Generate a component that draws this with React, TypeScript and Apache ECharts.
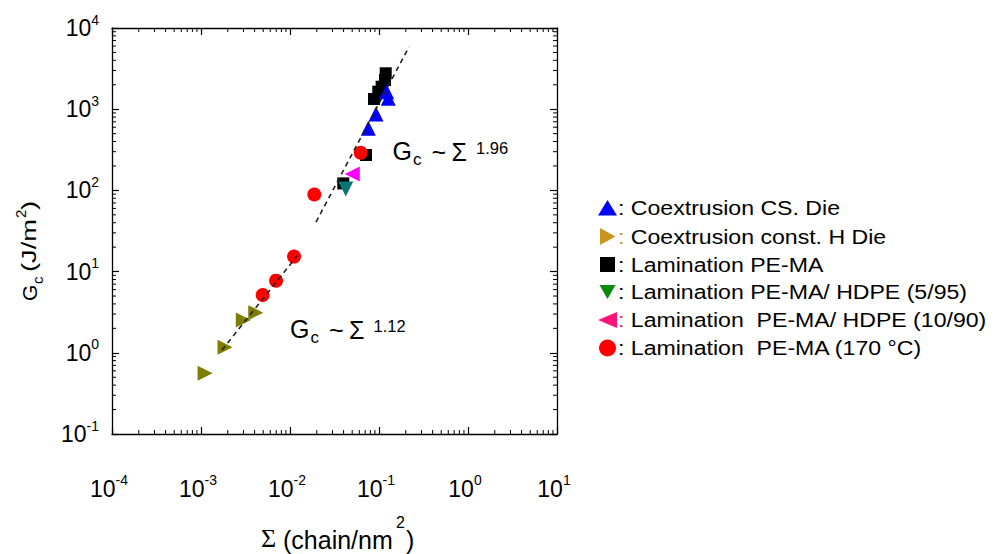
import React, { useEffect, useRef } from "react";
import * as echarts from "echarts";

// ---- data ----
const coexCS_x = [0.122, 0.127, 0.0925, 0.0759];
const coexCS_y = [1643, 1361, 873, 582];
const coexH_x = [0.00111, 0.00186, 0.00299, 0.00412];
const coexH_y = [0.56, 1.17, 2.54, 3.12];
const lamPEMA_x = [0.0397, 0.0714, 0.0879, 0.0982, 0.107, 0.1167, 0.119];
const lamPEMA_y = [122, 273, 1335, 1643, 1893, 2288, 2768];
const lam595_x = [0.0423];
const lam595_y = [104];
const lam1090_x = [0.0501];
const lam1090_y = [159];
const lam170_x = [0.00493, 0.00697, 0.0111, 0.01875, 0.0622];
const lam170_y = [5.15, 7.73, 15.3, 89, 291];
const fitHigh_x = [0.0196, 0.217];
const fitHigh_y = [40.8, 5840];
const fitLow_x = [0.00172, 0.012];
const fitLow_y = [1.08, 15.6];

const xTickExps = [-4, -3, -2, -1, 0, 1];
const yTickExps = [-1, 0, 1, 2, 3, 4];
const minorMantissas = [2, 3, 4, 5, 6, 7, 8, 9];

const legendLabels = [
  "Coextrusion CS. Die",
  "Coextrusion const. H Die",
  "Lamination PE-MA",
  "Lamination PE-MA/ HDPE (5/95)",
  "Lamination  PE-MA/ HDPE (10/90)",
  "Lamination  PE-MA (170 °C)",
];

const X_MIN = Math.pow(10, xTickExps[0]);
const X_MAX = Math.pow(10, xTickExps[xTickExps.length - 1]);
const Y_MIN = Math.pow(10, yTickExps[0]);
const Y_MAX = Math.pow(10, yTickExps[yTickExps.length - 1]);

const zip = (xs: number[], ys: number[]) => xs.map((x, i) => [x, ys[i]]);
const minorsOf = (exps: number[]) => {
  const out: number[] = [];
  for (let i = 0; i < exps.length - 1; i++) {
    for (const m of minorMantissas) out.push(m * Math.pow(10, exps[i]));
  }
  return out;
};

const SANS = '"Liberation Sans", Arial, Helvetica, sans-serif';
const SERIF = '"Liberation Serif", "Times New Roman", serif';

const supFormatter = (v: number) => {
  const e = Math.round(Math.log10(v));
  return `{b|10}{s|${e}}`;
};
const labelRich = {
  b: { fontSize: 23, fontFamily: SANS, color: "#000", lineHeight: 31 },
  s: { fontSize: 14, fontFamily: SANS, color: "#000", lineHeight: 15, verticalAlign: "top" },
};

function txt(x: number, y: number, text: string, fontSize: number, extra: any = {}) {
  return {
    type: "text",
    x,
    y,
    silent: true,
    ...extra,
    style: {
      text,
      fontSize,
      fontFamily: extra.fontFamily || SANS,
      fill: extra.fill || "#000",
      align: "left",
      verticalAlign: "middle",
      rich: extra.rich,
    },
  };
}

function annotation(x0: number, yc: number, exp: string) {
  return [
    txt(x0, yc, "G", 25),
    txt(x0 + 20.5, yc + 8, "c", 17),
    txt(x0 + 39, yc + 1, "~", 25),
    txt(x0 + 59, yc + 1, "Σ", 25),
    txt(x0 + 83.5, yc - 3.5, exp, 16.5),
  ];
}

export default function App() {
  const ref = useRef<HTMLDivElement>(null);
  useEffect(() => {
    document.body.style.margin = "0";
    const chart = echarts.init(ref.current!, null, { renderer: "svg" });

    const axisCommon = {
      type: "log",
      logBase: 10,
      splitLine: { show: false },
      axisLine: { show: true, onZero: false, lineStyle: { color: "#000", width: 1.3 } },
      axisTick: { show: true, inside: true, length: 7, lineStyle: { color: "#000", width: 1.2 } },
    };

    const legendIconColors = ["#0000ff", "#c8961e", "#000000", "#0a8a0a", "#ff1478", "#ff0000"];
    const rowY = [208, 236.5, 264.5, 292, 320, 348];
    const iconX = 607.5;
    const icons: any[] = [
      { type: "polygon", shape: { points: [[iconX - 9.5, rowY[0] + 7.5], [iconX + 9.5, rowY[0] + 7.5], [iconX, rowY[0] - 8]] }, style: { fill: legendIconColors[0] } },
      { type: "polygon", shape: { points: [[iconX - 7.5, rowY[1] - 8.5], [iconX - 7.5, rowY[1] + 8.5], [iconX + 8, rowY[1]]] }, style: { fill: legendIconColors[1] } },
      { type: "rect", shape: { x: iconX - 7.5, y: rowY[2] - 7.5, width: 15, height: 15 }, style: { fill: legendIconColors[2] } },
      { type: "polygon", shape: { points: [[iconX - 8, rowY[3] - 7], [iconX + 8, rowY[3] - 7], [iconX, rowY[3] + 7]] }, style: { fill: legendIconColors[3] } },
      { type: "polygon", shape: { points: [[iconX + 9.5, rowY[4] - 8], [iconX + 9.5, rowY[4] + 8], [iconX - 9.5, rowY[4]]] }, style: { fill: legendIconColors[4] } },
      { type: "circle", shape: { cx: iconX, cy: rowY[5], r: 8.5 }, style: { fill: legendIconColors[5] } },
    ];
    const colonColors = ["#000", "#c8961e", "#000", "#000", "#ff1478", "#000"];
    const legendTexts = legendLabels.map((l, i) =>
      txt(618, rowY[i], `{c|:} ${l}`, 21, {
        scaleX: 1.1,
        rich: { c: { fill: colonColors[i], fontSize: 21, fontFamily: SANS } },
      })
    );

    const graphic: any[] = [
      ...icons.map((g) => ({ ...g, silent: true })),
      ...legendTexts,
      ...annotation(392.5, 151, "1.96"),
      ...annotation(290, 329, "1.12"),
      // y axis name
      {
        type: "group",
        x: 29,
        y: 301,
        rotation: Math.PI / 2,
        children: [
          txt(0, 0, "G", 21),
          txt(17, 8, "c", 15),
          txt(29, 0, "(J/m", 21, { scaleX: 1.3 }),
          txt(83, -9, "2", 15),
          txt(91, 0, ")", 21, { scaleX: 1.3 }),
        ],
      },
      // x axis name
      txt(261, 538, "Σ", 26, { fontFamily: SERIF }),
      txt(283, 540, "(chain/nm", 25),
      txt(396, 522, "2", 16),
      txt(406, 540, ")", 25),
    ];

    const minorTickSeries = (axis: "x" | "y") => ({
      type: "custom",
      silent: true,
      clip: false,
      z: 5,
      data: axis === "x" ? minorsOf(xTickExps).map((v) => [v, 1]) : minorsOf(yTickExps).map((v) => [1, v]),
      renderItem: (_p: any, api: any) => {
        const L = 4;
        const st = { stroke: "#000", lineWidth: 1 };
        if (axis === "x") {
          const v = api.value(0);
          const b = api.coord([v, Y_MIN]);
          const t = api.coord([v, Y_MAX]);
          return {
            type: "group",
            children: [
              { type: "line", shape: { x1: b[0], y1: b[1], x2: b[0], y2: b[1] - L }, style: st },
              { type: "line", shape: { x1: t[0], y1: t[1], x2: t[0], y2: t[1] + L }, style: st },
            ],
          };
        }
        const v = api.value(1);
        const l = api.coord([X_MIN, v]);
        const r = api.coord([X_MAX, v]);
        return {
          type: "group",
          children: [
            { type: "line", shape: { x1: l[0], y1: l[1], x2: l[0] + L, y2: l[1] }, style: st },
            { type: "line", shape: { x1: r[0], y1: r[1], x2: r[0] - L, y2: r[1] }, style: st },
          ],
        };
      },
    });

    const scatter = (name: string, xs: number[], ys: number[], symbol: string, size: number, color: string, rotate = 0) => ({
      type: "scatter",
      name,
      data: zip(xs, ys),
      symbol,
      symbolSize: size,
      symbolRotate: rotate,
      itemStyle: { color, opacity: 1 },
      z: 3,
    });

    const dashed = (xs: number[], ys: number[]) => ({
      type: "line",
      data: zip(xs, ys),
      showSymbol: false,
      symbol: "none",
      lineStyle: { color: "#222", width: 1.6, type: [5, 4] },
      z: 4,
      silent: true,
    });

    chart.setOption({
      animation: false,
      backgroundColor: "#fff",
      grid: { left: 112, top: 28, width: 445, height: 406, containLabel: false },
      xAxis: [
        {
          ...axisCommon,
          min: X_MIN,
          max: X_MAX,
          position: "bottom",
          axisLabel: { show: true, fontSize: 23, formatter: supFormatter, rich: labelRich, margin: 39, padding: [0, 6, 0, 0] },
        },
        {
          ...axisCommon,
          min: X_MIN,
          max: X_MAX,
          position: "top",
          axisLabel: { show: false },
        },
      ],
      yAxis: [
        {
          ...axisCommon,
          min: Y_MIN,
          max: Y_MAX,
          position: "left",
          axisLabel: { show: true, fontSize: 23, formatter: supFormatter, rich: labelRich, margin: 13 },
        },
        {
          ...axisCommon,
          min: Y_MIN,
          max: Y_MAX,
          position: "right",
          axisLabel: { show: false },
        },
      ],
      series: [
        minorTickSeries("x"),
        minorTickSeries("y"),
        scatter("Lamination PE-MA", lamPEMA_x, lamPEMA_y, "rect", 12, "#000000"),
        scatter("Coextrusion CS. Die", coexCS_x, coexCS_y, "triangle", 15, "#0000ff"),
        scatter("Coextrusion const. H Die", coexH_x, coexH_y, "triangle", 15, "#7d7d00", -90),
        scatter("Lamination PE-MA/ HDPE (5/95)", lam595_x, lam595_y, "triangle", 15, "#0a7575", 180),
        scatter("Lamination PE-MA/ HDPE (10/90)", lam1090_x, lam1090_y, "triangle", 15, "#ff00ff", 90),
        scatter("Lamination PE-MA (170 °C)", lam170_x, lam170_y, "circle", 14, "#ff0000"),
        dashed(fitHigh_x, fitHigh_y),
        dashed(fitLow_x, fitLow_y),
      ],
      graphic,
    });
    return () => chart.dispose();
  }, []);
  return <div ref={ref} style={{ width: 995, height: 554 }} />;
}
